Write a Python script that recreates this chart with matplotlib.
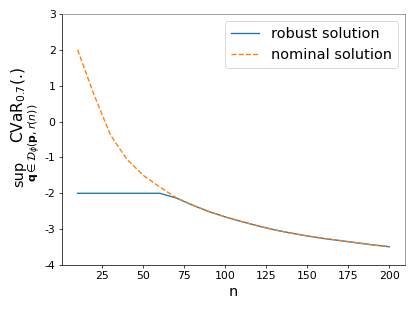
import matplotlib
matplotlib.use("Agg")
import matplotlib.pyplot as plt

plt.rcParams['axes.unicode_minus'] = False

n = [10, 20, 30, 40, 50, 60, 70, 80, 90, 100, 110, 120, 130, 140, 150, 160, 170, 180, 190, 200]
nominal = [2.0, 0.75, -0.37, -1.05, -1.5, -1.82, -2.12, -2.33, -2.51, -2.66, -2.79, -2.91,
           -3.02, -3.11, -3.19, -3.26, -3.32, -3.38, -3.44, -3.49]
robust = [-2.0, -2.0, -2.0, -2.0, -2.0, -2.0, -2.13, -2.33, -2.51, -2.66, -2.79, -2.91,
          -3.02, -3.11, -3.19, -3.26, -3.32, -3.38, -3.44, -3.49]

W, H = 415, 311
fig = plt.figure(figsize=(W / 65, H / 65), dpi=65)
ax = fig.add_axes([62 / W, 1 - 265 / H, 343 / W, 251 / H])

ax.plot(n, robust, color='#1f77b4', label='robust solution')
ax.plot(n, nominal, color='#ff7f0e', linestyle='--', label='nominal solution')

ax.set_ylim(-4, 3)
ax.set_xticks([25, 50, 75, 100, 125, 150, 175, 200])
ax.set_yticks([-4, -3, -2, -1, 0, 1, 2, 3])
ax.tick_params(labelsize=12)
ax.set_xlabel('n', fontsize=16)
ax.legend(fontsize=16)

# y label: sup over the ambiguity set, then CVaR
fig.text(19 / W, 1 - 105 / H, r'CVaR$_{0.7}$(.)', rotation=90, fontsize=17,
         ha='center', va='center')
fig.text(19 / W, 1 - 174 / H, 'sup', rotation=90, fontsize=16,
         ha='center', va='center')
fig.text(35 / W, 1 - 143 / H, r'$\mathbf{q}\in\mathcal{D}_\phi(\mathbf{p},r(n))$',
         rotation=90, fontsize=12, ha='center', va='center')

for side in ['top', 'right']:
    ax.spines[side].set_color('0.5')

fig.savefig('out.png', dpi=65)
